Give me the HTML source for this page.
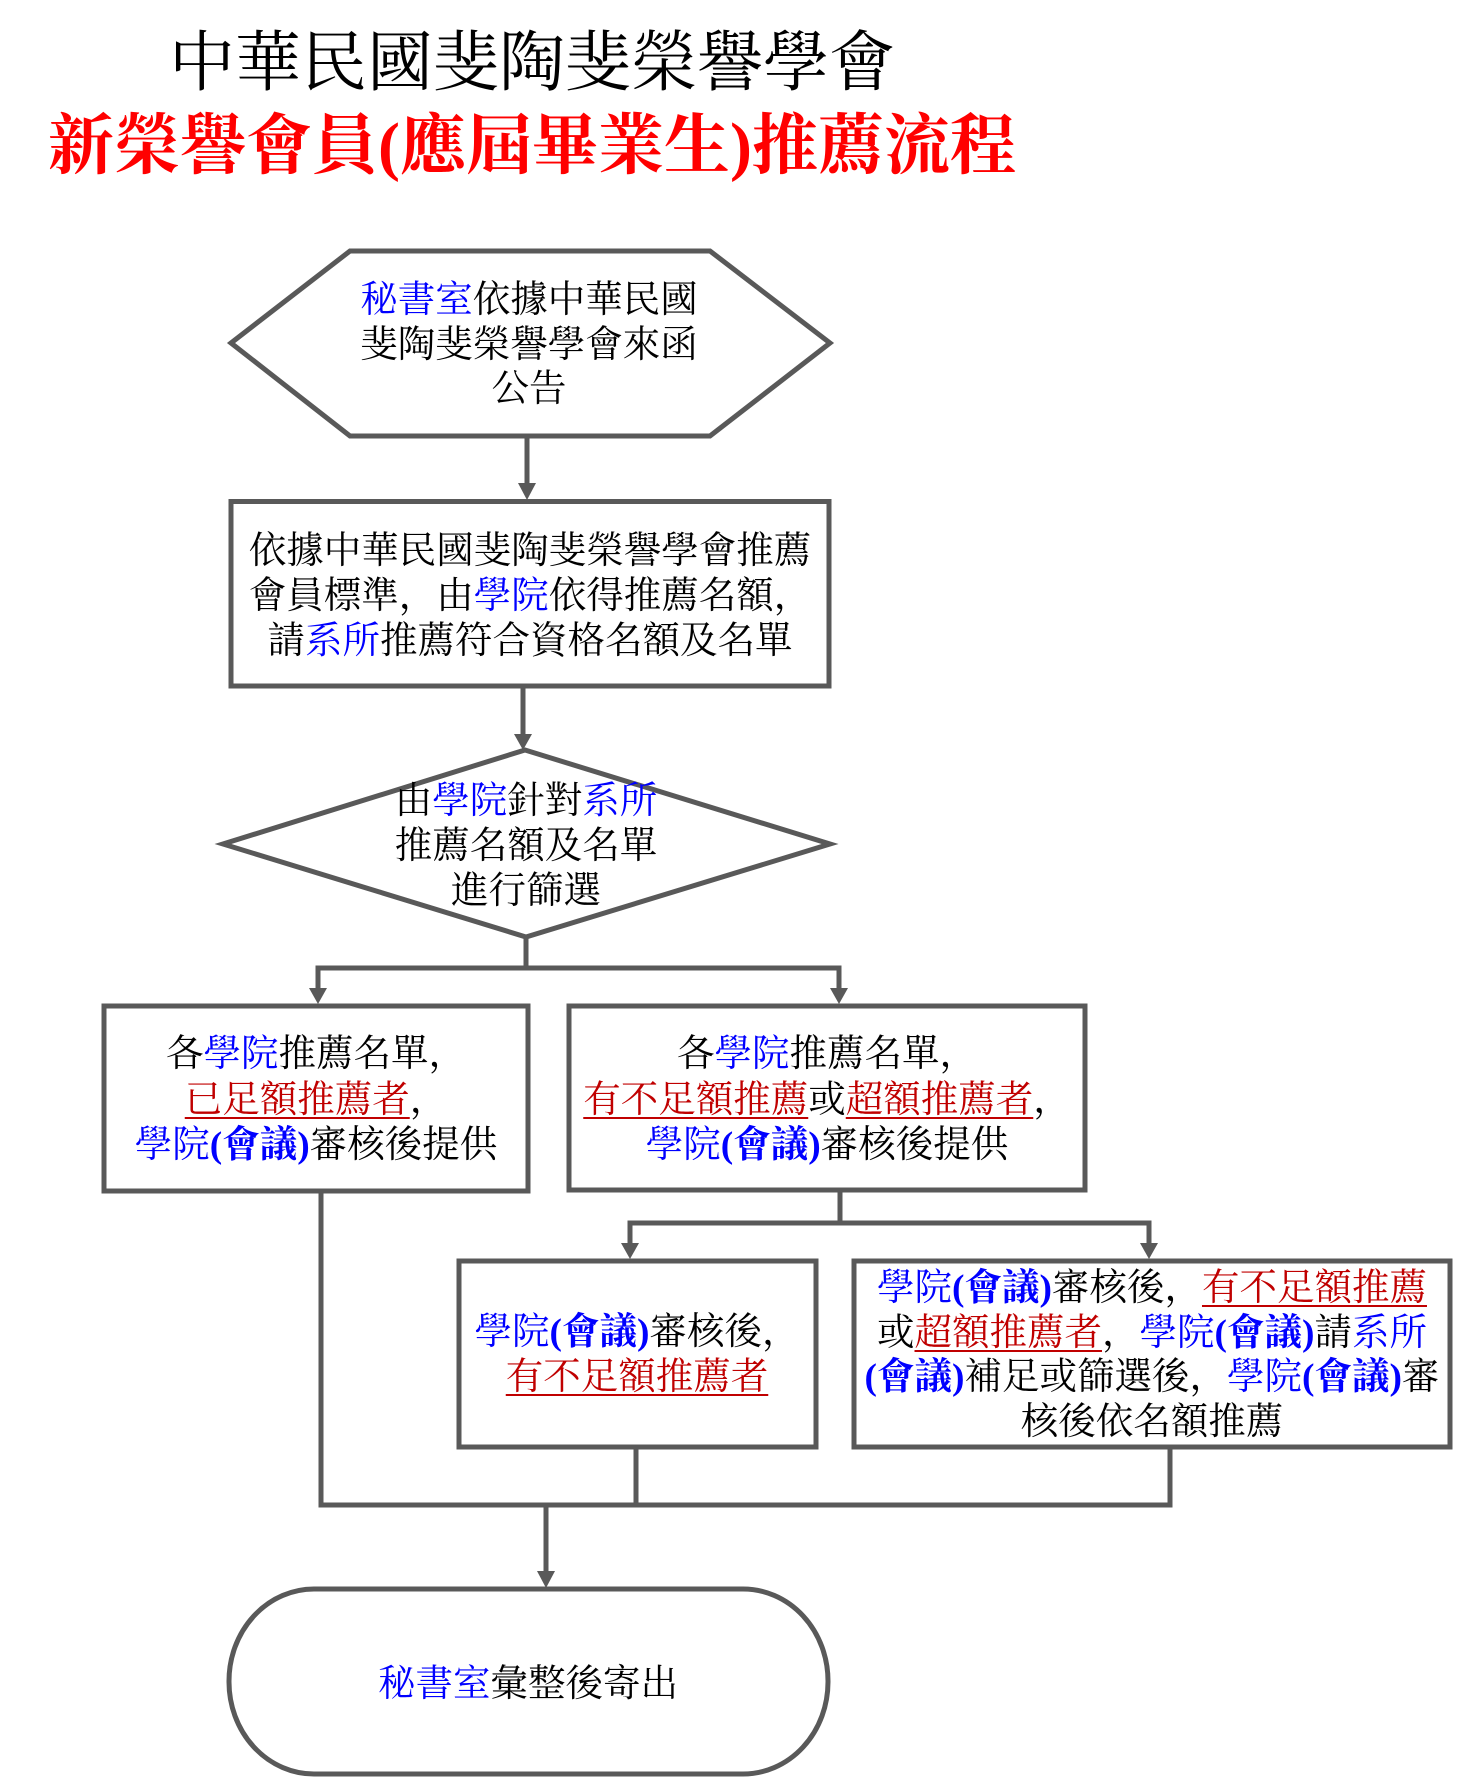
<!DOCTYPE html>
<html>
<head>
<meta charset="utf-8">
<style>
  html,body{margin:0;padding:0;background:#fff;}
  body{width:1457px;height:1777px;position:relative;overflow:hidden;
       font-family:"Liberation Serif","Noto Serif CJK SC","Noto Sans CJK TC",serif;}
  svg{position:absolute;left:0;top:0;}
  .t{position:absolute;width:1000px;text-align:center;white-space:nowrap;
     font-size:37.5px;color:#000;}
  .b{color:#0000ff;}
  .r{color:#c00000;text-decoration:underline;text-decoration-color:#c00000;
     text-decoration-thickness:2px;text-underline-offset:5px;}
  .p{font-weight:bold;}
  .title1{position:absolute;left:-68px;width:1200px;text-align:center;white-space:nowrap;
          font-size:66px;line-height:82px;top:23px;color:#000;}
  .title2{position:absolute;left:-68px;width:1200px;text-align:center;white-space:nowrap;
          font-size:66px;line-height:82px;top:106px;color:#ff0000;font-weight:bold;}
</style>
</head>
<body>
<svg width="1457" height="1777" viewBox="0 0 1457 1777">
  <g stroke="#595959" stroke-width="5" fill="none" stroke-linejoin="miter">
    <polygon points="231,343 350,251 710,251 830,343 710,436 350,436" fill="#fff"/>
    <line x1="527" y1="436" x2="527" y2="485"/>
    <rect x="231" y="501.5" width="598" height="184.5" fill="#fff"/>
    <line x1="523" y1="686" x2="523" y2="736"/>
    <polygon points="525,750 830,844 526,937 223,844" fill="#fff"/>
    <line x1="526" y1="937" x2="526" y2="968"/>
    <polyline points="318,990 318,968 839,968 839,990"/>
    <rect x="104" y="1006" width="424" height="185" fill="#fff"/>
    <rect x="569" y="1006" width="516" height="184" fill="#fff"/>
    <line x1="840" y1="1190" x2="840" y2="1223"/>
    <polyline points="630,1245 630,1223 1149,1223 1149,1245"/>
    <rect x="459" y="1261" width="357" height="186" fill="#fff"/>
    <rect x="854" y="1261" width="596" height="186" fill="#fff"/>
    <polyline points="321,1191 321,1505 1170,1505 1170,1447"/>
    <line x1="636" y1="1447" x2="636" y2="1505"/>
    <line x1="546" y1="1505" x2="546" y2="1573"/>
    <rect x="229" y="1589" width="599" height="185" rx="85" ry="92" fill="#fff"/>
  </g>
  <g fill="#595959" stroke="none">
    <polygon points="518,483 536,483 527,500"/>
    <polygon points="514,734 532,734 523,750"/>
    <polygon points="309,988 327,988 318,1004"/>
    <polygon points="830,988 848,988 839,1004"/>
    <polygon points="621,1243 639,1243 630,1259"/>
    <polygon points="1140,1243 1158,1243 1149,1259"/>
    <polygon points="537,1571 555,1571 546,1588"/>
  </g>
</svg>

<div class="title1">中華民國斐陶斐榮譽學會</div>
<div class="title2">新榮譽會員(應屆畢業生)推薦流程</div>

<!-- hexagon -->
<div class="t" style="left:29px;top:279px;line-height:44.5px;"><span class="b">秘書室</span>依據中華民國<br>斐陶斐榮譽學會來函<br>公告</div>

<!-- rect 2 -->
<div class="t" style="left:30px;top:529px;line-height:45px;">依據中華民國斐陶斐榮譽學會推薦<br>會員標準，由<span class="b">學院</span>依得推薦名額，<br>請<span class="b">系所</span>推薦符合資格名額及名單</div>

<!-- diamond -->
<div class="t" style="left:26px;top:779px;line-height:45px;">由<span class="b">學院</span>針對<span class="b">系所</span><br>推薦名額及名單<br>進行篩選</div>

<!-- left box -->
<div class="t" style="left:-184px;top:1032px;line-height:45.5px;">各<span class="b">學院</span>推薦名單，<br><span class="r">已足額推薦者</span>，<br><span class="b">學院<span class="p">(會議)</span></span>審核後提供</div>

<!-- right box -->
<div class="t" style="left:327px;top:1032px;line-height:45.5px;">各<span class="b">學院</span>推薦名單，<br><span class="r">有不足額推薦</span>或<span class="r">超額推薦者</span>，<br><span class="b">學院<span class="p">(會議)</span></span>審核後提供</div>

<!-- box 3 -->
<div class="t" style="left:137px;top:1310px;line-height:45px;"><span class="b">學院<span class="p">(會議)</span></span>審核後，<br><span class="r">有不足額推薦者</span></div>

<!-- box 4 -->
<div class="t" style="left:652px;top:1267px;line-height:44.7px;"><span class="b">學院<span class="p">(會議)</span></span>審核後，<span class="r">有不足額推薦</span><br>或<span class="r">超額推薦者</span>，<span class="b">學院<span class="p">(會議)</span></span>請<span class="b">系所</span><br><span class="b p">(會議)</span>補足或篩選後，<span class="b">學院<span class="p">(會議)</span></span>審<br>核後依名額推薦</div>

<!-- terminal -->
<div class="t" style="left:28px;top:1662px;line-height:45px;"><span class="b">秘書室</span>彙整後寄出</div>
</body>
</html>
